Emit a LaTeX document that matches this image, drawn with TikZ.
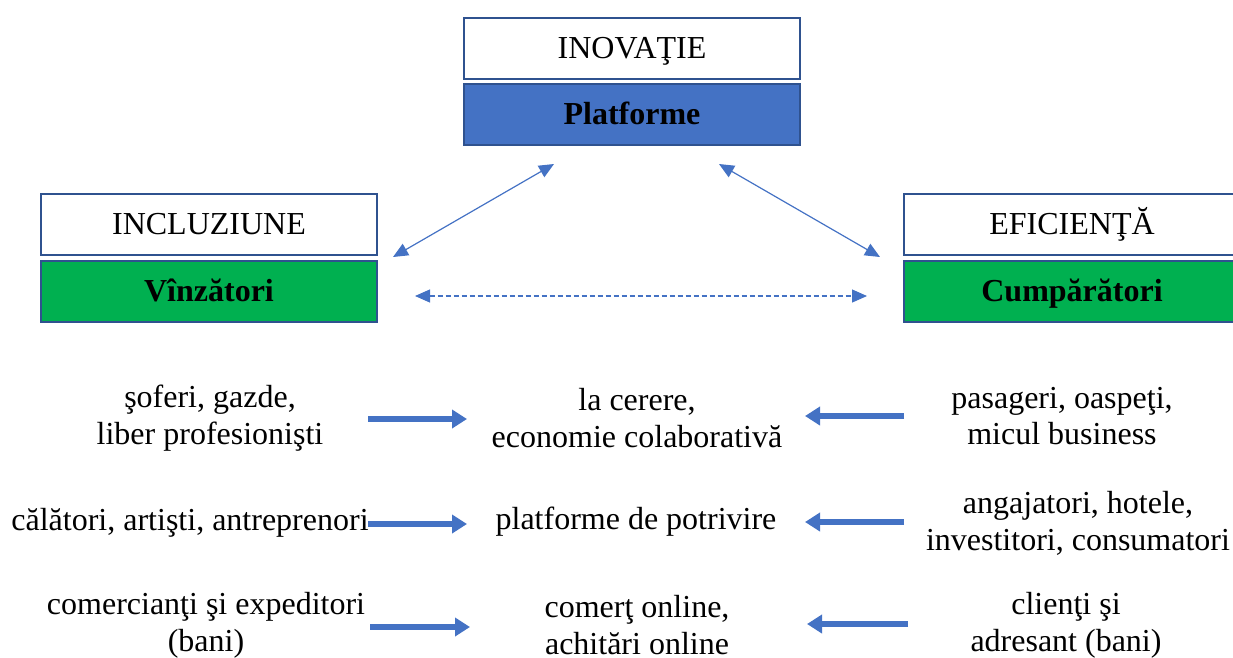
\documentclass[tikz,border=0pt]{standalone}
\usepackage{fontspec}
\setmainfont{Liberation Serif}
\usetikzlibrary{arrows.meta}
\definecolor{bblue}{HTML}{4472C4}
\definecolor{bdark}{HTML}{2F528F}
\definecolor{bgreen}{HTML}{00B050}
\begin{document}
\begin{tikzpicture}[x=1pt,y=-1pt,
  every node/.style={font=\fontsize{32}{36.8}\selectfont, inner sep=0pt},
  titlebox/.style={draw=bdark, line width=2pt, fill=white, minimum width=336pt, minimum height=61pt, text height=20pt, text depth=0pt},
  platbox/.style={titlebox, fill=bblue, font=\fontsize{32}{36.8}\selectfont\bfseries},
  greenbox/.style={titlebox, fill=bgreen, font=\fontsize{32}{36.8}\selectfont\bfseries},
  txt/.style={align=center},
  thinarrow/.style={draw=bblue, line width=1.2pt, {Triangle[length=15pt,width=13pt]}-{Triangle[length=15pt,width=13pt]}},
  dasharrow/.style={thinarrow, dash pattern=on 5pt off 3pt},
  fatarrow/.style={draw=bblue, line width=6pt, -{Triangle[length=15pt,width=18pt]}}
]
\useasboundingbox (0,0) rectangle (1233,657);

% boxes
\node[titlebox] (inov) at (632,48.5) {INOVAŢIE};
\node[platbox] (platf) at (632,114.5) {Platforme};
\node[titlebox] (incl) at (209,224.5) {INCLUZIUNE};
\node[greenbox] (vinz) at (209,291) {Vînzători};
\node[titlebox] (efic) at (1072,224.5) {EFICIENŢĂ};
\node[greenbox] (cump) at (1072,291) {Cumpărători};

% thin arrows
\coordinate (la) at (393,257);
\coordinate (lb) at (554,164);
\coordinate (ra) at (719,164);
\coordinate (rb) at (880,257);
\coordinate (da) at (415,296);
\coordinate (db) at (867,296);
\draw[thinarrow] (la) -- (lb);
\draw[thinarrow] (ra) -- (rb);
\draw[dasharrow] (da) -- (db);

% texts
\node[txt] (t1l) at (210,418) {şoferi, gazde,\\liber profesionişti};
\node[txt] (t1c) at (637,418) {la cerere,\\economie colaborativă};
\node[txt] (t1r) at (1062,416) {pasageri, oaspeţi,\\micul business};
\node[txt] (t2l) at (190,523) {călători, artişti, antreprenori};
\node[txt] (t2c) at (636,522) {platforme de potrivire};
\node[txt] (t2r) at (1078,523) {angajatori, hotele,\\investitori, consumatori};
\node[txt] (t3l) at (206,625) {comercianţi şi expeditori\\(bani)};
\node[txt] (t3c) at (637,625) {comerţ online,\\achitări online};
\node[txt] (t3r) at (1066,625) {clienţi şi\\adresant (bani)};

% thick arrows
\coordinate (a1s) at (368,419); \coordinate (a1e) at (467,419);
\coordinate (b1s) at (904,416); \coordinate (b1e) at (805,416);
\coordinate (a2s) at (368,524); \coordinate (a2e) at (467,524);
\coordinate (b2s) at (904,522); \coordinate (b2e) at (805,522);
\coordinate (a3s) at (370,627); \coordinate (a3e) at (470,627);
\coordinate (b3s) at (908,624); \coordinate (b3e) at (807,624);
\draw[fatarrow] (a1s) -- (a1e);
\draw[fatarrow] (b1s) -- (b1e);
\draw[fatarrow] (a2s) -- (a2e);
\draw[fatarrow] (b2s) -- (b2e);
\draw[fatarrow] (a3s) -- (a3e);
\draw[fatarrow] (b3s) -- (b3e);
\end{tikzpicture}
\end{document}
